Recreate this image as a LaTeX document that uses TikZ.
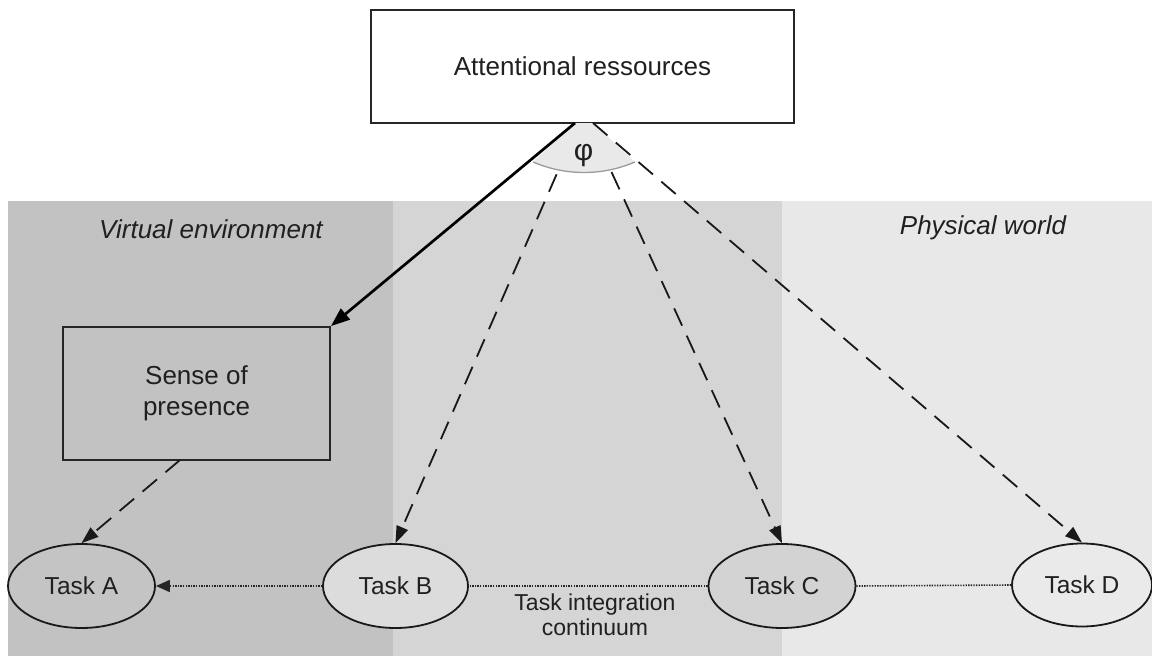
\documentclass[tikz,border=0pt]{standalone}
\usepackage{fontspec}
\setmainfont{Liberation Sans}
\usetikzlibrary{shapes.geometric,arrows.meta}
\definecolor{panelL}{HTML}{C2C2C2}
\definecolor{panelM}{HTML}{D5D5D5}
\definecolor{panelR}{HTML}{E8E8E8}
\definecolor{sectorfill}{HTML}{E9E9E9}
\definecolor{sectorline}{HTML}{9A9A9A}
\definecolor{txt}{HTML}{202020}
\definecolor{taskAfill}{HTML}{C4C4C4}
\definecolor{taskBfill}{HTML}{DCDCDC}
\definecolor{taskCfill}{HTML}{D3D3D3}
\definecolor{taskDfill}{HTML}{EAEAEA}
\begin{document}
\begin{tikzpicture}[x=1pt,y=-1pt,
  boxstyle/.style={draw=black!85,line width=1.8pt,text=txt,align=center,inner sep=0pt},
  taskstyle/.style={ellipse,draw=black!90,line width=1.8pt,text=txt,inner sep=0pt,
     minimum width=146pt,minimum height=84pt,font=\fontsize{24.5}{28}\selectfont},
  regionlabel/.style={text=txt,font=\fontsize{26}{30}\selectfont\itshape},
  dashline/.style={line width=1.8pt,draw=black!90,dash pattern=on 19pt off 11pt},
  dotline/.style={line width=1.6pt,draw=black!85,dash pattern=on 1.4pt off 1.2pt},
  tip/.style={-{Triangle[length=17pt,width=12pt]}}
]
\useasboundingbox (0,0) rectangle (1152,656);
% panels
\fill[panelL] (8,201) rectangle (393,656);
\fill[panelM] (393,201) rectangle (782,656);
\fill[panelR] (782,201) rectangle (1152,656);

\node[regionlabel] (virt) at (211,229) {Virtual environment};
\node[regionlabel] (phys) at (983,228) {Physical world};

% attention box
\node[boxstyle,fill=white,minimum width=423pt,minimum height=113pt,
      font=\fontsize{26}{30}\selectfont] (attn) at (582.5,66.5) {Attentional ressources};

% sector
\coordinate (apexL) at (575,123);
\coordinate (apexR) at (593,123);
\coordinate (apexBL) at (579,123);
\coordinate (apexBR) at (589,123);
\fill[sectorfill] (apexL) -- (533,162) .. controls (566,176) and (602,176) .. (635,162) -- (apexR) -- cycle;
\draw[sectorline,line width=1.3pt] (533,162) .. controls (566,176) and (602,176) .. (635,162);
\node[anchor=base,text=txt,inner sep=0pt,font=\fontsize{30}{34}\selectfont] (phi) at (583.5,160) {φ};

% sense of presence
\node[boxstyle,fill=panelL,minimum width=267pt,minimum height=133pt,
      font=\fontsize{26}{31}\selectfont] (sense) at (196.5,393.5) {Sense of\\presence};

% tasks
\node[taskstyle,fill=taskAfill,minimum width=147pt] (taskA) at (81.5,586) {Task A};
\node[taskstyle,fill=taskBfill,minimum width=145pt] (taskB) at (395.5,586) {Task B};
\node[taskstyle,fill=taskCfill,minimum width=147pt] (taskC) at (782,586) {Task C};
\node[taskstyle,fill=taskDfill,minimum width=140pt,minimum height=83pt] (taskD) at (1082,585) {Task D};

\node[text=txt,align=center,inner sep=0pt,font=\fontsize{23}{25}\selectfont] (cont) at (595,615) {Task integration\\continuum};

% connectors
\draw[line width=2.7pt,black,-{Triangle[length=19pt,width=14pt]}] (apexL) -- (sense.north east);
\draw[dashline,tip] (apexR) -- (taskD.north);
\draw[dashline,tip,shorten <=56pt] (apexBL) -- (taskB.north);
\draw[dashline,tip,shorten <=54pt] (apexBR) -- (taskC.north);
\draw[dashline,tip] (180,460) -- (taskA.north);

\draw[dotline] (taskD.west) -- (taskC.east);
\draw[dotline] (taskC.west) -- (taskB.east);
\draw[dotline,-{Triangle[length=14pt,width=12pt]}] (taskB.west) -- (taskA.east);
\end{tikzpicture}
\end{document}
